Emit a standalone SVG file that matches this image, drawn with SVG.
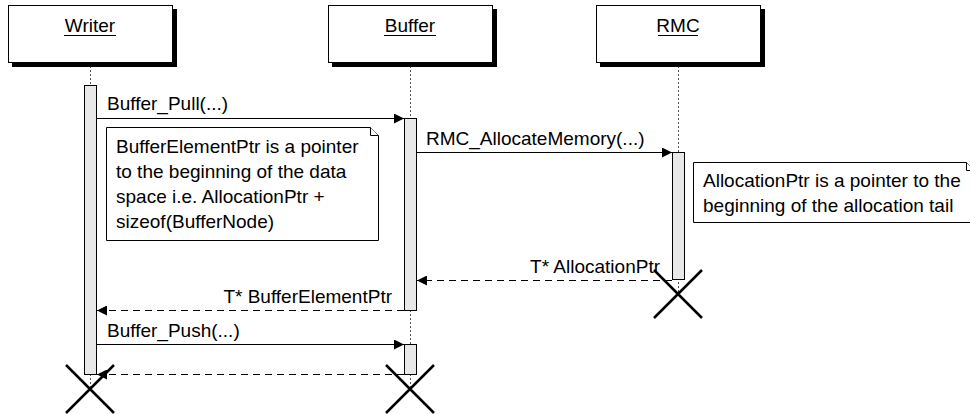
<svg xmlns="http://www.w3.org/2000/svg" width="970" height="414" viewBox="0 0 970 414">
<defs>
<style>
text{font-family:"Liberation Sans",Arial,sans-serif;font-size:19px;fill:#000}
.box{fill:#fff;stroke:#000;stroke-width:1}
.shadow{fill:#000}
.life{stroke:#555;stroke-width:1;stroke-dasharray:2,2;fill:none}
.bar{fill:#e8e8e8;stroke:#000;stroke-width:1}
.msg{stroke:#000;stroke-width:1;fill:none}
.ret{stroke:#000;stroke-width:1;fill:none;stroke-dasharray:7,5}
.x{stroke:#000;stroke-width:2.5;fill:none}
.note{fill:#fff;stroke:#000;stroke-width:1}
.ul{stroke:#000;stroke-width:1}
</style>
<marker id="ah" viewBox="0 0 10 10" refX="10" refY="5" markerWidth="10" markerHeight="10" markerUnits="userSpaceOnUse" orient="auto">
<path d="M0,0 L10,5 L0,10 Z" fill="#000"/>
</marker>
</defs>
<rect width="970" height="414" fill="#fff"/>
<g id="lifelines">
<line class="life" x1="90.5" y1="66" x2="90.5" y2="389"/>
<line class="life" x1="410.5" y1="66" x2="410.5" y2="389"/>
<line class="life" x1="678.5" y1="66" x2="678.5" y2="294"/>
</g>
<g id="writer">
<rect class="shadow" x="12" y="9" width="165" height="58"/>
<rect class="box" x="8.5" y="5.5" width="164" height="57"/>
<text x="90" y="32" text-anchor="middle">Writer</text>
<line class="ul" x1="64" y1="35.5" x2="116" y2="35.5"/>
</g>
<g id="buffer">
<rect class="shadow" x="332" y="9" width="165" height="58"/>
<rect class="box" x="328.5" y="5.5" width="164" height="57"/>
<text x="410" y="32" text-anchor="middle">Buffer</text>
<line class="ul" x1="384" y1="35.5" x2="436" y2="35.5"/>
</g>
<g id="rmc">
<rect class="shadow" x="600" y="9" width="165" height="58"/>
<rect class="box" x="596.5" y="5.5" width="164" height="57"/>
<text x="678" y="32" text-anchor="middle">RMC</text>
<line class="ul" x1="658" y1="35.5" x2="698" y2="35.5"/>
</g>
<g id="activations">
<rect class="bar" x="84.5" y="85.5" width="12" height="289"/>
<rect class="bar" x="404.5" y="118.5" width="12" height="192"/>
<rect class="bar" x="672.5" y="152.5" width="12" height="127"/>
<rect class="bar" x="404.5" y="344.5" width="12" height="30"/>
</g>
<g id="connectors">
<line class="msg" x1="97" y1="118.5" x2="404" y2="118.5" marker-end="url(#ah)"/>
<text x="107" y="110">Buffer_Pull(...)</text>
<line class="msg" x1="417" y1="152.5" x2="672" y2="152.5" marker-end="url(#ah)"/>
<text x="426" y="145">RMC_AllocateMemory(...)</text>
<line class="ret" x1="672" y1="280.5" x2="417" y2="280.5" marker-end="url(#ah)"/>
<text x="660" y="273" text-anchor="end">T* AllocationPtr</text>
<line class="ret" x1="404" y1="310.5" x2="97" y2="310.5" marker-end="url(#ah)"/>
<text x="392" y="303" text-anchor="end">T* BufferElementPtr</text>
<line class="msg" x1="97" y1="344.5" x2="404" y2="344.5" marker-end="url(#ah)"/>
<text x="107" y="337">Buffer_Push(...)</text>
<line class="ret" x1="404" y1="374.5" x2="97" y2="374.5" marker-end="url(#ah)"/>
</g>
<g id="note1">
<path class="note" d="M106.5,127.5 H370.5 L378.5,135.5 V240.5 H106.5 Z"/>
<path class="note" d="M370.5,127.5 V135.5 H378.5"/>
<text x="116" y="153">BufferElementPtr is a pointer</text>
<text x="116" y="178">to the beginning of the data</text>
<text x="116" y="203">space i.e. AllocationPtr +</text>
<text x="116" y="228">sizeof(BufferNode)</text>
</g>
<g id="note2">
<path class="note" d="M693.5,162.5 H966.5 L974.5,170.5 V222.5 H693.5 Z"/>
<path class="note" d="M966.5,162.5 V170.5 H974.5"/>
<text x="703" y="187">AllocationPtr is a pointer to the</text>
<text x="703" y="212">beginning of the allocation tail</text>
</g>
<g id="destroys">
<path class="x" d="M654,270 L702,318 M702,270 L654,318"/>
<path class="x" d="M66,365 L114,413 M114,365 L66,413"/>
<path class="x" d="M386,365 L434,413 M434,365 L386,413"/>
</g>
</svg>
